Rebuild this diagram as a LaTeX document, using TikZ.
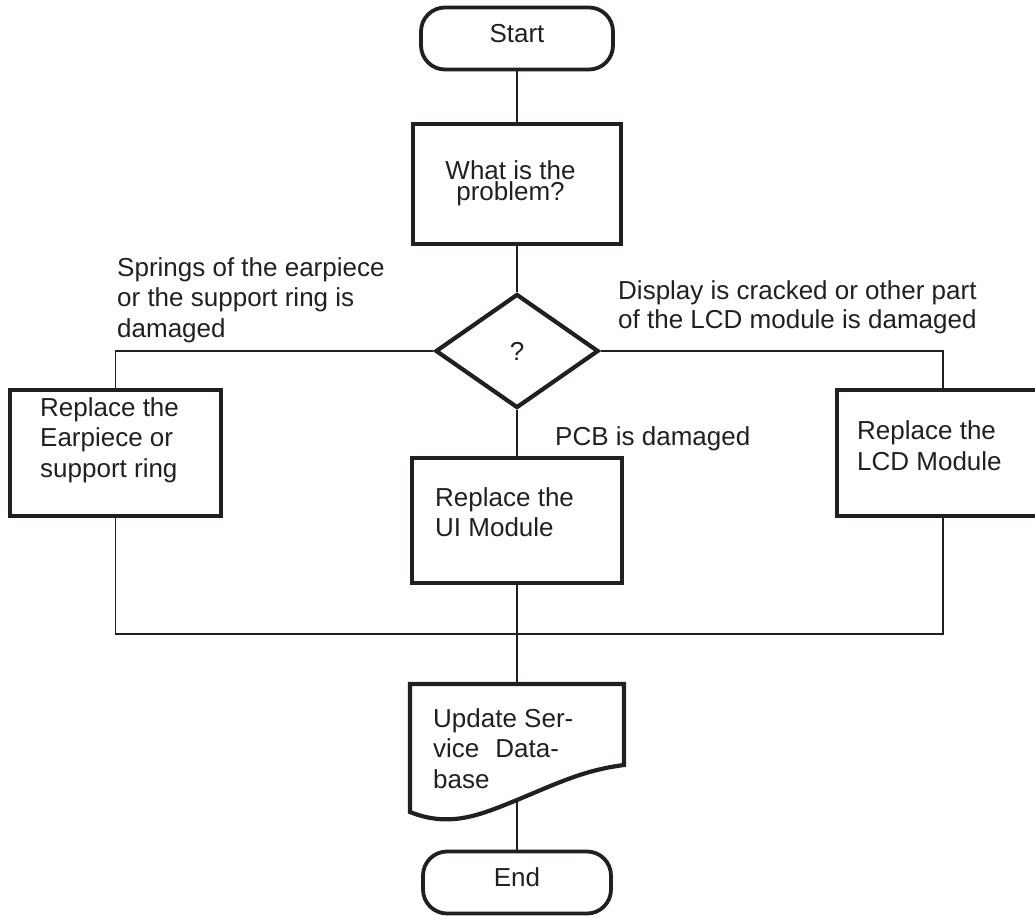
\documentclass[tikz,border=0pt]{standalone}
\usepackage{fontspec}
\setmainfont{Liberation Sans}
\usetikzlibrary{shapes.geometric}
\definecolor{ink}{HTML}{231F20}

\begin{document}
\begin{tikzpicture}[x=1pt,y=-1pt,
  every node/.style={text=ink, font=\fontsize{26}{30.5}\selectfont},
  terminal/.style={draw=ink, line width=3.8pt, rounded corners=24pt,
    minimum width=#1, minimum height=62pt, inner sep=0pt,
    text height=18.6pt, text depth=10pt},
  procbox/.style={draw=ink, line width=4.2pt, minimum width=#1,
    minimum height=126pt, inner sep=0pt},
  decision/.style={diamond, draw=ink, line width=4.2pt, minimum width=163pt,
    minimum height=114pt, inner sep=0pt},
  holder/.style={minimum width=214pt, minimum height=116pt, inner sep=0pt},
  shapeline/.style={draw=ink, line width=4.2pt},
  % multi-line texts are placed by the baseline of their last line
  txt/.style={anchor=base west, align=left, inner sep=0pt},
  conn/.style={draw=ink, line width=1.8pt}
]
\useasboundingbox (0,0) rectangle (1035,915);

% start / end terminals
\node[terminal=192pt] (start) at (517,38.5) {Start};
\node[terminal=188pt] (stop) at (517,882.5) {End};

% question box and decision
\node[procbox=208pt, minimum height=120pt] (q) at (517,184) {};
\node[align=center, inner sep=0pt, anchor=base,
      font=\fontsize{26}{21}\selectfont] (qtext) at (510.5,200) {What is the\\problem?};
\node[decision] (dec) at (517,351) {?};

% repair boxes
\node[procbox=211pt] (lbox) at (115.5,453) {};
\node[procbox=210pt, minimum height=125pt] (mbox) at (517,520.5) {};
\node[procbox=212pt] (rbox) at (943,453) {};
\node[txt] (ltext) at (40,477) {Replace the\\Earpiece or\\support ring};
\node[txt] (mtext) at (435,536.5) {Replace the\\UI Module};
\node[txt] (rtext) at (857,470) {Replace the\\LCD Module};

% branch labels
\node[txt] (lab1) at (117,337) {Springs of the earpiece\\or the support ring is\\damaged};
\node[txt, font=\fontsize{26}{29}\selectfont] (lab2) at (618,328) {Display is cracked or other part\\of the LCD module is damaged};
\node[txt] (lab3) at (555,445) {PCB is damaged};

% document shape with wavy bottom
\node[holder] (doc) at (517,742) {};
\draw[shapeline] (410,684) -- (624,684) -- (624,765)
  .. controls (585,770) and (560,782) .. (517,800)
  .. controls (480,815) and (450,828) .. (410,812) -- cycle;
\node[txt] (dtext) at (433,788) {Update Ser-\\vice\hspace{16pt}Data-\\base};

% connectors
\coordinate (join) at (517,634);
\draw[conn] (start) -- (q);
\draw[conn] (q) -- (dec);
\draw[conn] (dec.west) -| (lbox.north);
\draw[conn] (dec.east) -| (rbox.north);
\draw[conn] (dec) -- (mbox);
\draw[conn] (lbox.south) |- (join) -| (rbox.south);
\draw[conn] (mbox) -- (doc.north);
\draw[conn] (doc.south) -- (stop);
\end{tikzpicture}
\end{document}
